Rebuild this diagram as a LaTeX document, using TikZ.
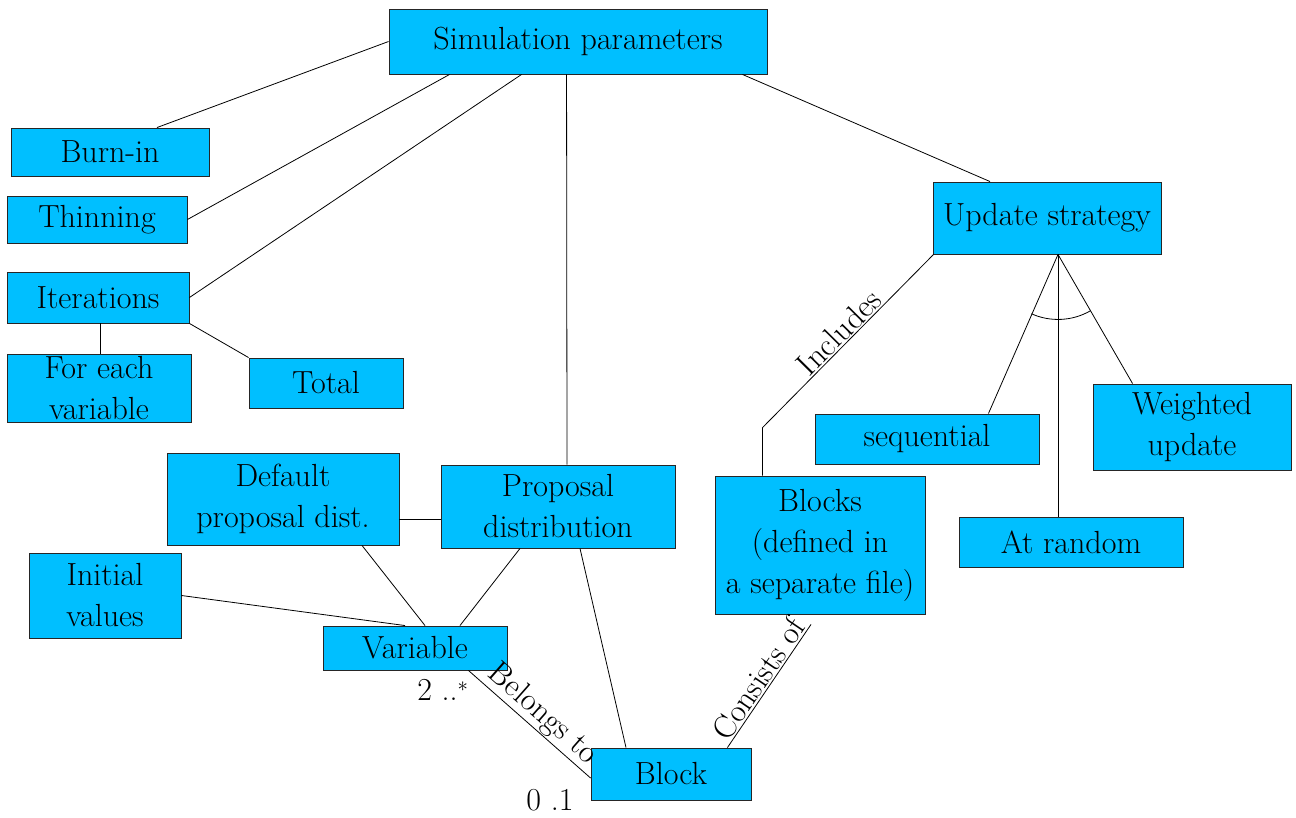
\documentclass[tikz,border=0pt]{standalone}
\usetikzlibrary{calc}
\definecolor{boxblue}{HTML}{00BFFF}
\begin{document}
\begin{tikzpicture}[x=1pt,y=-1pt,
  box/.style={draw=black!85,fill=boxblue,line width=0.9pt,inner sep=0pt,align=center,
    font=\fontsize{32}{41}\selectfont},
  conn/.style={line width=0.8pt,black},
  lbl/.style={font=\fontsize{32}{36}\selectfont,inner sep=1pt}]
\useasboundingbox (0,0) rectangle (1296,818);
% nodes
\node[box,minimum width=378,minimum height=65] (sim) at (578,41.5) {Simulation parameters};
\node[box,minimum width=198,minimum height=48] (burn) at (110,152) {Burn-in};
\node[box,minimum width=180,minimum height=47] (thin) at (97,219.5) {Thinning};
\node[box,minimum width=182,minimum height=51] (iter) at (98,297.5) {Iterations};
\node[box,minimum width=184,minimum height=68] (foreach) at (99,388) {For each\\variable};
\node[box,minimum width=154,minimum height=50] (total) at (326,383) {Total};
\node[box,minimum width=228,minimum height=72] (upd) at (1047,218) {Update strategy};
\node[box,minimum width=224,minimum height=50] (seq) at (927,439) {sequential};
\node[box,minimum width=198,minimum height=86] (wtd) at (1192,427) {Weighted\\update};
\node[box,minimum width=224,minimum height=50] (rand) at (1071,542) {At random};
\node[box,minimum width=210,minimum height=138] (blocks) at (820,545) {Blocks\\(defined in\\a separate file)};
\node[box,minimum width=234,minimum height=83] (prop) at (558,506.5) {Proposal\\distribution};
\node[box,minimum width=232,minimum height=92] (dflt) at (283,499) {Default\\proposal dist.};
\node[box,minimum width=152,minimum height=85] (init) at (105,595.5) {Initial\\values};
\node[box,minimum width=184,minimum height=44] (var) at (415,648) {Variable};
\node[box,minimum width=160,minimum height=52] (block) at (671,774) {Block};
% connectors from simulation parameters
\draw[conn] (sim.west) -- ($(burn.north)+(47,0)$);
\draw[conn] ($(sim.south west)+(61,0)$) -- (thin.east);
\draw[conn] ($(sim.south west)+(133,0)$) -- (iter.east);
\draw[conn] ($(sim.south west)+(178,0)$) -- ($(prop.north)+(9,0)$);
\draw[conn] ($(sim.south east)+(-25,0)$) -- ($(upd.north)+(-57,0)$);
% iterations
\draw[conn] ($(iter.south)+(2,0)$) -- ($(foreach.north)+(1,0)$);
\draw[conn] (iter.south east) -- (total.north west);
% update strategy
\coordinate (apex) at ($(upd.south)+(11,0)$);
\draw[conn] (apex) -- ($(seq.north east)+(-51,0)$);
\draw[conn] (apex) -- (apex |- rand.north);
\draw[conn] (apex) -- ($(wtd.north west)+(40,0)$);
\draw[conn] ($(apex)+(245.8:65pt)$) arc[start angle=245.8,end angle=300,radius=65pt];
\coordinate (bend) at ($(blocks.north west)+(48,-48)$);
\draw[conn] ($(upd.south west)+(1,0)$) -- node[lbl,sloped,above,pos=0.5]{Includes} (bend) -- ($(blocks.north west)+(48,0)$);
% blocks and block
\draw[conn] ($(block.north east)+(-24,0)$) -- node[lbl,sloped,above,pos=0.5]{Consists of} ($(blocks.south)+(-9,10)$);
\draw[conn] ($(var.south east)+(-39,0)$) -- node[lbl,sloped,above,pos=0.52]{Belongs to} ($(block.west)+(0,4)$);
% proposal etc.
\draw[conn] ($(dflt.south)+(79,0)$) -- ($(var.north)+(10,0)$);
\draw[conn] ($(prop.south)+(-38,0)$) -- ($(var.north)+(45,0)$);
\draw[conn] ($(prop.south)+(22,0)$) -- ($(block.north)+(-45,0)$);
\draw[conn] ($(dflt.east)+(0,20)$) -- ($(prop.west)+(0,12.5)$);
\draw[conn] (init.east) -- ($(var.north)+(-10,0)$);
% multiplicities
\node[lbl] (m1) at (443,690) {2 ..$^*$};
\node[lbl] (m2) at (550,800) {0 .1};
\end{tikzpicture}
\end{document}
